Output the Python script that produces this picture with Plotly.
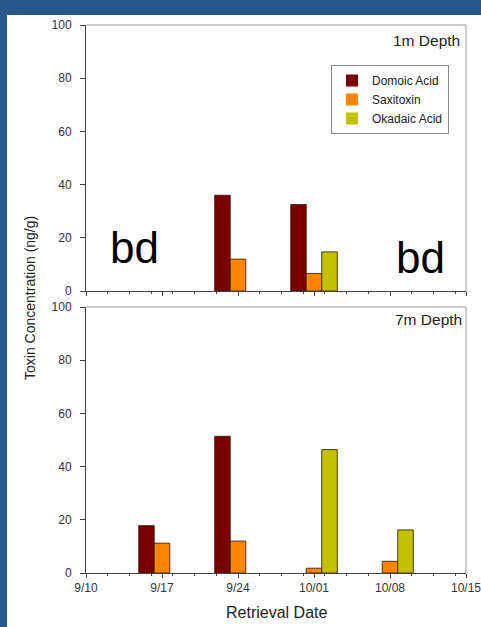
import plotly.graph_objects as go

# ---- data ----
dates = ["2009-09-17", "2009-09-24", "2009-10-01", "2009-10-08"]
series = ["Domoic Acid", "Saxitoxin", "Okadaic Acid"]
colors = ["#7a0000", "#ff8400", "#c2c200"]
top_1m = {
    "Domoic Acid": [0, 36.0, 32.5, 0],
    "Saxitoxin": [0, 12.0, 6.6, 0],
    "Okadaic Acid": [0, 0, 14.7, 0],
}
bot_7m = {
    "Domoic Acid": [17.8, 51.4, 0, 0],
    "Saxitoxin": [11.2, 12.0, 1.8, 4.4],
    "Okadaic Acid": [0, 0, 46.4, 16.2],
}
x_range = ["2009-09-10", "2009-10-15"]
y_ticks = [0, 20, 40, 60, 80, 100]

W, H = 481, 627
def px(x):
    return x / W
def py(y):
    return 1 - y / H

def outline(vals):
    # below-detection (zero) bars get no outline
    return dict(color="rgba(50,30,20,0.85)", width=[1 if v > 0 else 0 for v in vals])

fig = go.Figure()
for name, col in zip(series, colors):
    fig.add_trace(go.Bar(x=dates, y=top_1m[name], name=name, xaxis="x2", yaxis="y2",
                         marker=dict(color=col, line=outline(top_1m[name])),
                         legendgroup=name, showlegend=True))
for name, col in zip(series, colors):
    fig.add_trace(go.Bar(x=dates, y=bot_7m[name], name=name, xaxis="x", yaxis="y",
                         marker=dict(color=col, line=outline(bot_7m[name])),
                         legendgroup=name, showlegend=False))

DAY = 86400000
xcommon = dict(
    domain=[px(86), px(466)], type="date", range=x_range, automargin=False,
    tickmode="linear", tick0=x_range[0], dtick=7 * DAY, tickformat="%-m/%d",
    ticklabeloverflow="allow",
    ticks="outside", ticklen=4, tickcolor="#444", showline=True, linecolor="#444", linewidth=1,
    showgrid=False, zeroline=False,
    tickfont=dict(family="Liberation Sans, Arial", size=12, color="#333"),
    minor=dict(tick0=x_range[0], dtick=2 * DAY, ticks="outside", ticklen=2, tickcolor="#444", showgrid=False),
)
ycommon = dict(
    range=[0, 100], tickmode="array", tickvals=y_ticks, automargin=False,
    ticks="outside", ticklen=5, tickcolor="#444", showline=True, linecolor="#444", linewidth=1,
    showgrid=False, zeroline=False, ticklabelstandoff=6,
    tickfont=dict(family="Liberation Sans, Arial", size=12, color="#333"),
)

fig.update_layout(
    width=W, height=H, autosize=False,
    margin=dict(l=0, r=0, t=0, b=0, pad=0, autoexpand=False),
    paper_bgcolor="#29598c",
    plot_bgcolor="white",
    barmode="group", bargap=0.387, bargroupgap=0,
    xaxis=dict(anchor="y", **xcommon),
    xaxis2=dict(anchor="y2", matches="x", showticklabels=False, **xcommon),
    yaxis=dict(anchor="x", domain=[py(573), py(307)], **ycommon),
    yaxis2=dict(anchor="x2", domain=[py(291), py(25)], **ycommon),
    legend=dict(x=px(331), y=py(65), xanchor="left", yanchor="top",
                bgcolor="white", bordercolor="#888", borderwidth=1,
                font=dict(family="Liberation Sans, Arial", size=12, color="#222"),
                tracegroupgap=0, itemwidth=30),
    font=dict(family="Liberation Sans, Arial"),
)

shapes = [
    # white slide panel
    dict(type="rect", xref="paper", yref="paper", x0=px(7), x1=1.01, y0=-0.01, y1=py(15),
         fillcolor="white", line=dict(width=0), layer="below"),
    # top/right borders of the panels
    dict(type="line", xref="paper", yref="paper", x0=px(86), x1=px(466), y0=py(25), y1=py(25),
         line=dict(color="#999", width=1)),
    dict(type="line", xref="paper", yref="paper", x0=px(466), x1=px(466), y0=py(25), y1=py(291),
         line=dict(color="#999", width=1)),
    dict(type="line", xref="paper", yref="paper", x0=px(86), x1=px(466), y0=py(307), y1=py(307),
         line=dict(color="#999", width=1)),
    dict(type="line", xref="paper", yref="paper", x0=px(466), x1=px(466), y0=py(307), y1=py(573),
         line=dict(color="#999", width=1)),
]
fig.update_layout(shapes=shapes)

ann = [
    dict(text="1m Depth", x=px(462), y=py(40), xanchor="right", yanchor="middle",
         font=dict(size=15.5, color="#222")),
    dict(text="7m Depth", x=px(464), y=py(319), xanchor="right", yanchor="middle",
         font=dict(size=15.5, color="#222")),
    dict(text="bd", x=px(134), y=py(247), xanchor="center", yanchor="middle",
         font=dict(size=44, color="black")),
    dict(text="bd", x=px(420), y=py(257), xanchor="center", yanchor="middle",
         font=dict(size=44, color="black")),
    dict(text="Toxin Concentration (ng/g)", x=px(30), y=py(298), textangle=-90,
         xanchor="center", yanchor="middle", font=dict(size=14, color="#222")),
    dict(text="Retrieval Date", x=px(276), y=py(612), xanchor="center", yanchor="middle",
         font=dict(size=16, color="#222")),
    dict(text="Site A", x=px(220), y=py(-15), xanchor="center", yanchor="middle",
         font=dict(size=40, color="white")),
]
for a in ann:
    a.update(xref="paper", yref="paper", showarrow=False)
fig.update_layout(annotations=ann)

fig.write_html("out.html", config={"displayModeBar": False},
               post_script="document.body.style.margin='0px';document.body.style.overflow='hidden';")
